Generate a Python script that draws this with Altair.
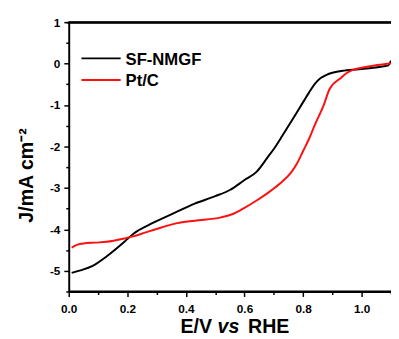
import altair as alt
import pandas as pd

# --- data ---
series_names = ["SF-NMGF", "Pt/C"]
series_colors = ["#000000", "#ff1010"]

E_sf = [0.01, 0.04, 0.08, 0.13, 0.19, 0.22, 0.28, 0.35, 0.43, 0.50, 0.55, 0.60, 0.64, 0.68, 0.70,
        0.73, 0.76, 0.78, 0.80, 0.82, 0.84, 0.86, 0.88, 0.90, 0.94, 0.97, 1.00, 1.04, 1.07, 1.09, 1.10]
J_sf = [-5.05, -4.99, -4.89, -4.65, -4.30, -4.11, -3.87, -3.64, -3.38, -3.20, -3.05, -2.81, -2.62, -2.25, -2.06,
        -1.73, -1.39, -1.16, -0.93, -0.70, -0.49, -0.35, -0.27, -0.22, -0.17, -0.15, -0.13, -0.10, -0.07, -0.05, 0.07]

E_pt = [0.01, 0.03, 0.05, 0.09, 0.13, 0.19, 0.22, 0.26, 0.30, 0.37, 0.43, 0.52, 0.56, 0.60, 0.64, 0.68,
        0.72, 0.76, 0.78, 0.80, 0.82, 0.84, 0.87, 0.89, 0.93, 0.95, 0.97, 1.00, 1.04, 1.07, 1.10]
J_pt = [-4.44, -4.37, -4.34, -4.32, -4.30, -4.22, -4.17, -4.08, -3.99, -3.85, -3.79, -3.71, -3.63, -3.48, -3.31, -3.12,
        -2.90, -2.62, -2.40, -2.11, -1.82, -1.48, -1.01, -0.62, -0.34, -0.22, -0.15, -0.10, -0.05, -0.02, 0.01]

x_major = [0.0, 0.2, 0.4, 0.6, 0.8, 1.0]
x_minor = [0.1, 0.3, 0.5, 0.7, 0.9, 1.1]
y_major = [-5, -4, -3, -2, -1, 0, 1]
y_minor = [-5.5, -4.5, -3.5, -2.5, -1.5, -0.5, 0.5, 1]

df = pd.concat([
    pd.DataFrame({"E": E_sf, "J": J_sf, "series": series_names[0]}),
    pd.DataFrame({"E": E_pt, "J": J_pt, "series": series_names[1]}),
])

W, H = 329, 275
FONT = "Liberation Sans"

color_scale = alt.Scale(domain=series_names, range=series_colors)
x_scale = alt.Scale(domain=[0, 1.1], nice=False, zero=False)
y_scale = alt.Scale(domain=[-5.5, 1], nice=False, zero=False)

common = dict(grid=False, domainColor="black", domainWidth=2, tickColor="black", tickWidth=1.5,
              labelFont=FONT, labelFontSize=12, labelFontWeight="bold", labelColor="black",
              labelFlush=False, labelOverlap=False)

x_axis = alt.Axis(values=x_major, format=".1f", tickSize=5, title=None, labelPadding=7,
                  orient="bottom", **common)
y_axis = alt.Axis(
    values=y_major, tickSize=5, labelPadding=4, orient="left",
    labelExpr="datum.value < 0 ? '-' + format(-datum.value, 'd') : format(datum.value, 'd')",
    title="J/mA cm⁻²",
    titleFont=FONT, titleFontSize=20, titleFontWeight="bold", titleColor="black",
    titleAngle=270, titleX=-37, titleY=156, titleAlign="center", titleBaseline="alphabetic",
    **common,
)
x_minor_axis = alt.Axis(values=x_minor, tickSize=3, labels=False, domain=False, grid=False, title=None,
                        tickColor="black", tickWidth=1.5, orient="bottom")
# minor y ticks; the grid line at J = 1 doubles as the top frame of the plot box
y_minor_axis = alt.Axis(values=y_minor, tickSize=3, labels=False, domain=False, title=None,
                        tickColor="black", tickWidth=1.5, orient="left",
                        grid=True, gridColor="black", gridWidth=2,
                        gridOpacity=alt.condition("datum.value === 1", alt.value(1), alt.value(0)))

lines = alt.Chart(df).mark_line(strokeWidth=2, interpolate="monotone").encode(
    x=alt.X("E:Q", scale=x_scale, axis=x_axis),
    y=alt.Y("J:Q", scale=y_scale, axis=y_axis),
    color=alt.Color("series:N", scale=color_scale, legend=None),
)

minor = alt.Chart(df).mark_point(opacity=0).encode(
    x=alt.X("E:Q", scale=x_scale, axis=x_minor_axis),
    y=alt.Y("J:Q", scale=y_scale, axis=y_minor_axis),
)

# top frame line of the plot box (redundant with the grid line above)
top_frame = alt.Chart(alt.Data(values=[{"f": 1}])).mark_rule(color="black", strokeWidth=2).encode(
    x=alt.value(-1), x2=alt.value(W), y=alt.value(0.5)
)

# legend
leg_y = [37, 59]
legend_layers = []
for name, col, yy in zip(series_names, series_colors, leg_y):
    d = alt.Data(values=[{"series": name}])
    legend_layers.append(
        alt.Chart(d).mark_rule(strokeWidth=2, color=col).encode(
            x=alt.value(13), x2=alt.value(53), y=alt.value(yy),
        )
    )
    legend_layers.append(
        alt.Chart(d).mark_text(align="left", baseline="alphabetic", font=FONT, fontSize=17,
                               fontWeight="bold", color="black").encode(
            x=alt.value(58), y=alt.value(yy + 6.5), text="series:N"
        )
    )

# x title with italic "vs"
title_parts = [("E/V", "normal", 114), ("vs", "italic", 152), ("RHE", "normal", 183)]
title_layers = []
for txt, style, xx in title_parts:
    title_layers.append(
        alt.Chart(alt.Data(values=[{"t": txt}])).mark_text(
            align="left", baseline="alphabetic", font=FONT, fontSize=20, fontWeight="bold",
            fontStyle=style, color="black").encode(
            x=alt.value(xx), y=alt.value(317), text="t:N")
    )

chart = alt.layer(lines, minor, *legend_layers, *title_layers, top_frame).resolve_axis(
    x="independent", y="independent"
).properties(
    width=W, height=H,
    autosize=alt.AutoSizeParams(type="none"),
    padding={"left": 62, "top": 11, "right": 0, "bottom": 44},
).configure_view(stroke="black", strokeWidth=2, strokeDash=[W, H])

chart.save("out.html", embed_options={"renderer": "svg", "actions": False})
